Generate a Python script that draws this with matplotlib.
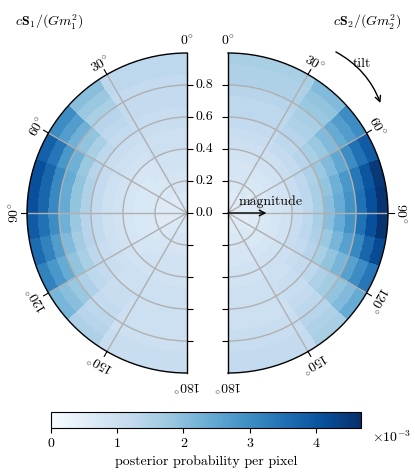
import numpy as np
import matplotlib.pyplot as plt
from matplotlib.colors import Normalize
from matplotlib.cm import ScalarMappable

plt.rcParams['font.family'] = 'serif'
plt.rcParams['font.serif'] = ['cmr10']
plt.rcParams['mathtext.fontset'] = 'cm'
plt.rcParams['axes.unicode_minus'] = False
plt.rcParams['axes.formatter.use_mathtext'] = True

# posterior probability per pixel (x1e-3); rows = magnitude bins (0 -> 1),
# columns = cos(tilt) bins (tilt 0 -> 180 deg)
s1_prob = [
    [0.7, 0.6, 0.6, 0.6, 0.6, 0.6, 0.6, 0.6, 0.6, 0.6, 0.6, 0.7],
    [0.7, 0.6, 0.6, 0.6, 0.6, 0.6, 0.6, 0.6, 0.6, 0.6, 0.7, 0.7],
    [0.8, 0.7, 0.7, 0.6, 0.6, 0.6, 0.6, 0.6, 0.6, 0.7, 0.7, 0.8],
    [0.8, 0.7, 0.7, 0.7, 0.7, 0.7, 0.7, 0.7, 0.7, 0.7, 0.8, 0.8],
    [0.9, 0.8, 0.7, 0.7, 0.7, 0.7, 0.7, 0.7, 0.7, 0.8, 0.8, 0.9],
    [0.9, 0.8, 0.8, 0.8, 0.8, 0.8, 0.8, 0.8, 0.8, 0.8, 0.9, 0.9],
    [1.0, 0.9, 0.9, 0.9, 0.9, 0.9, 0.9, 0.9, 0.9, 0.9, 0.9, 0.9],
    [1.0, 1.0, 1.0, 1.0, 1.0, 1.0, 1.0, 1.0, 1.0, 1.0, 1.0, 1.0],
    [1.1, 1.1, 1.1, 1.2, 1.2, 1.2, 1.2, 1.2, 1.1, 1.1, 1.0, 1.0],
    [1.1, 1.2, 1.3, 1.4, 1.5, 1.5, 1.4, 1.4, 1.3, 1.2, 1.1, 1.0],
    [1.2, 1.3, 1.6, 1.8, 1.9, 1.9, 1.8, 1.7, 1.6, 1.3, 1.1, 1.0],
    [1.2, 1.4, 1.9, 2.3, 2.4, 2.4, 2.3, 2.1, 1.9, 1.5, 1.2, 1.0],
    [1.2, 1.6, 2.3, 2.8, 3.1, 3.1, 3.0, 2.7, 2.4, 1.8, 1.3, 1.0],
    [1.3, 1.8, 2.7, 3.4, 3.7, 3.7, 3.5, 3.2, 2.8, 2.0, 1.4, 1.1],
    [1.3, 2.0, 3.0, 3.8, 4.1, 4.1, 3.9, 3.6, 3.2, 2.2, 1.5, 1.1],
]
s2_prob = [
    [0.6, 0.5, 0.5, 0.5, 0.5, 0.5, 0.5, 0.5, 0.5, 0.5, 0.5, 0.6],
    [0.6, 0.6, 0.6, 0.5, 0.5, 0.5, 0.5, 0.5, 0.5, 0.6, 0.6, 0.6],
    [0.7, 0.7, 0.6, 0.6, 0.6, 0.6, 0.6, 0.6, 0.6, 0.6, 0.7, 0.7],
    [0.8, 0.7, 0.7, 0.7, 0.7, 0.7, 0.7, 0.7, 0.7, 0.7, 0.7, 0.8],
    [0.8, 0.8, 0.8, 0.8, 0.8, 0.8, 0.8, 0.8, 0.8, 0.8, 0.8, 0.8],
    [0.9, 0.9, 0.9, 0.9, 0.9, 0.9, 0.9, 0.9, 0.9, 0.9, 0.9, 0.9],
    [1.0, 1.0, 1.1, 1.1, 1.1, 1.1, 1.1, 1.1, 1.1, 1.0, 1.0, 0.9],
    [1.1, 1.2, 1.2, 1.3, 1.3, 1.3, 1.3, 1.3, 1.2, 1.1, 1.0, 1.0],
    [1.2, 1.3, 1.4, 1.5, 1.6, 1.6, 1.6, 1.5, 1.4, 1.2, 1.1, 1.0],
    [1.3, 1.4, 1.6, 1.8, 1.9, 2.0, 2.0, 1.8, 1.6, 1.3, 1.1, 1.0],
    [1.3, 1.5, 1.8, 2.1, 2.3, 2.4, 2.4, 2.2, 1.9, 1.5, 1.2, 1.0],
    [1.4, 1.6, 2.1, 2.5, 2.8, 2.9, 2.9, 2.6, 2.2, 1.7, 1.3, 1.1],
    [1.5, 1.8, 2.4, 3.0, 3.4, 3.5, 3.5, 3.1, 2.6, 1.9, 1.4, 1.1],
    [1.5, 1.9, 2.7, 3.5, 4.0, 4.1, 4.1, 3.7, 3.0, 2.1, 1.5, 1.2],
    [1.6, 2.1, 3.0, 3.9, 4.5, 4.6, 4.6, 4.2, 3.4, 2.4, 1.6, 1.2],
]
titles = [r'$c\mathbf{S}_1/(Gm_1^2)$', r'$c\mathbf{S}_2/(Gm_2^2)$']
theta_ticks = [0, 30, 60, 90, 120, 150, 180]
r_ticks = [0.2, 0.4, 0.6, 0.8]
cbar_ticks = [0, 1, 2, 3, 4]
vmax = 4.68

cmap = plt.get_cmap('Blues')
norm = Normalize(0, vmax)

fig = plt.figure(figsize=(4.15, 4.75), dpi=100)
# polar boxes are square; the half disk sits in the middle of each box
ax1 = fig.add_axes([-53 / 415, 102 / 475, 320 / 415, 320 / 475], polar=True)
ax2 = fig.add_axes([148 / 415, 102 / 475, 320 / 415, 320 / 475], polar=True)

for ax, prob, sgn in [(ax1, s1_prob, 1), (ax2, s2_prob, -1)]:
    prob = np.array(prob)
    nr, nt = prob.shape
    r_edges = np.linspace(0, 1, nr + 1)
    t_edges = np.arccos(np.linspace(1, -1, nt + 1))
    # split each tilt bin so the outer arc is drawn smooth
    sub = 10
    t_fine = np.concatenate([np.linspace(t_edges[i], t_edges[i + 1], sub + 1)[:-1]
                             for i in range(nt)] + [[t_edges[-1]]])
    c_fine = np.repeat(prob, sub, axis=1)
    ax.set_theta_zero_location('N')
    ax.set_theta_direction(sgn)
    ax.set_thetamin(0)
    ax.set_thetamax(180)
    ax.pcolormesh(t_fine, r_edges, c_fine, cmap=cmap, norm=norm, shading='flat')
    ax.set_rlim(0, 1)
    ax.set_rgrids(r_ticks, labels=[])
    ax.set_thetagrids(theta_ticks[1:-1], labels=[])
    ax.grid(True, color='#b0b0b0', lw=1)
    ax.tick_params(axis='both', length=0)
    for s in ax.spines.values():
        s.set_linewidth(1)

    for t in theta_ticks:
        th = np.deg2rad(t)
        if 0 < t < 180:
            ax.plot([th, th], [1.0, 1.035], color='k', lw=0.8, clip_on=False)
        ax.text(th, 1.03, r'$%d^{\circ}$' % t, rotation=sgn * t,
                rotation_mode='anchor', ha='center', va='bottom', fontsize=10)

    mk = 1 if sgn == 1 else 0
    ax.plot(np.zeros(len(r_ticks) + 1), [0] + r_ticks, ls='none', marker=mk,
            ms=4, mew=0.8, color='k', clip_on=False)
    ax.plot(np.full(len(r_ticks), np.pi), r_ticks, ls='none', marker=mk,
            ms=4, mew=0.8, color='k', clip_on=False)

for r in [0.0] + r_ticks:
    ax1.annotate('%.1f' % r, xy=(0, r), xytext=(6, 0), textcoords='offset points',
                 ha='left', va='center', fontsize=10, annotation_clip=False)

fig.text(15 / 415, 1 - 22 / 475, titles[0], ha='left', va='center', fontsize=10)
fig.text(401 / 415, 1 - 22 / 475, titles[1], ha='right', va='center', fontsize=10)

# tilt and magnitude arrows
ax2.annotate('', xy=(np.deg2rad(55), 1.17), xytext=(np.deg2rad(33), 1.21),
             arrowprops=dict(arrowstyle='->', connectionstyle='arc3,rad=-0.2',
                             lw=1, color='k'), annotation_clip=False)
ax2.text(np.deg2rad(42), 1.25, 'tilt', ha='center', va='center', fontsize=10)
ax2.annotate('', xy=(np.pi / 2, 0.24), xytext=(np.pi / 2, 0.0),
             arrowprops=dict(arrowstyle='->', lw=1, color='k', shrinkA=0, shrinkB=0))
ax2.text(np.pi / 2 - 0.12, 0.27, 'magnitude', ha='center', va='bottom', fontsize=10)

cax = fig.add_axes([51 / 415, 47 / 475, 310 / 415, 16 / 475])
sm = ScalarMappable(norm=norm, cmap=cmap)
cb = fig.colorbar(sm, cax=cax, orientation='horizontal', ticks=cbar_ticks)
cb.ax.set_xticklabels([str(t) for t in cbar_ticks])
cb.ax.tick_params(labelsize=10, length=3.5, width=0.8)
cb.outline.set_linewidth(0.8)
cb.set_label('posterior probability per pixel', fontsize=10, labelpad=4)
fig.text(372 / 415, 1 - 437 / 475, r'$\times10^{-3}$', ha='left', va='center',
         fontsize=10)

fig.savefig('out.png', dpi=100)
